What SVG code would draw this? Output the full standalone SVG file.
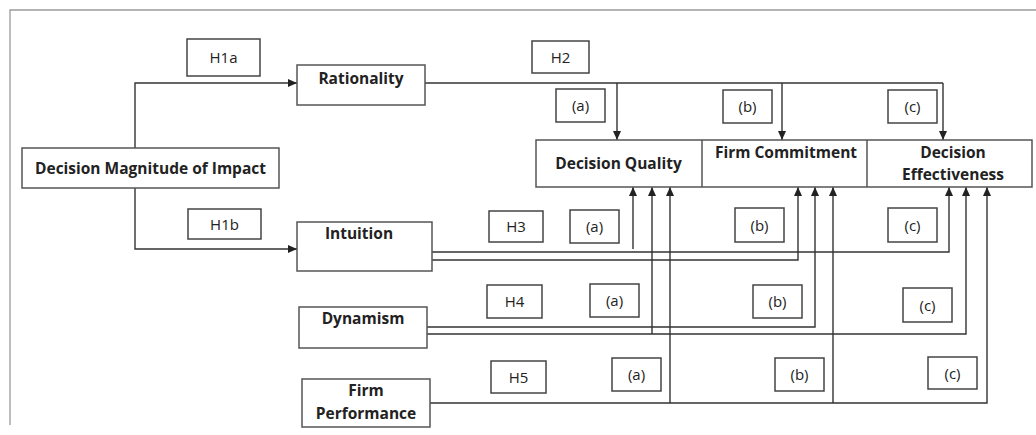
<svg xmlns="http://www.w3.org/2000/svg" width="1036" height="435" viewBox="0 0 1036 435">
  <style>
    .box { fill: #ffffff; stroke: #555555; stroke-width: 1.5; }
    .lbl { fill: #ffffff; stroke: #444444; stroke-width: 1.5; }
    .frame { fill: none; stroke: #9a9a9a; stroke-width: 1.3; }
    .wire { fill: none; stroke: #333333; stroke-width: 1.4; }
    .arrow { marker-end: url(#tip); }
    .t { font-family: "Open Sans", "Liberation Sans", sans-serif; fill: #222222; text-anchor: middle; }
    .b { font-size: 15.5px; font-weight: bold; }
    .r { font-size: 15px; }
  </style>
  <defs>
    <marker id="tip" markerWidth="10" markerHeight="8" refX="9" refY="4" orient="auto" markerUnits="userSpaceOnUse">
      <path d="M0,0 L9,4 L0,8 Z" fill="#222222"/>
    </marker>
  </defs>

  <!-- outer frame (top and left edges) -->
  <path class="frame" d="M10,425 V10 H1036"/>

  <!-- connectors -->
  <g id="connectors">
    <path class="wire arrow" d="M135,148 V83 H297"/>
    <path class="wire arrow" d="M135,188 V249 H297"/>

    <path class="wire" d="M425,83 H943"/>
    <path class="wire arrow" d="M943,83 V140"/>
    <path class="wire arrow" d="M617,83 V140"/>
    <path class="wire arrow" d="M782,83 V140"/>

    <path class="wire arrow" d="M428,252 H949 V187"/>
    <path class="wire arrow" d="M428,260 H798 V187"/>
    <path class="wire arrow" d="M633,249 V187"/>

    <path class="wire arrow" d="M425,327 H815 V187"/>
    <path class="wire arrow" d="M425,334 H966 V187"/>
    <path class="wire arrow" d="M652,334 V187"/>

    <path class="wire arrow" d="M430,403 H987 V187"/>
    <path class="wire arrow" d="M670,403 V187"/>
    <path class="wire arrow" d="M833,403 V187"/>
  </g>

  <!-- constructs -->
  <g id="magnitude">
    <rect class="box" x="22" y="148" width="257" height="40"/>
    <text class="t b" x="150.5" y="173.5">Decision Magnitude of Impact</text>
  </g>
  <g id="rationality">
    <rect class="box" x="297" y="65" width="128" height="40"/>
    <text class="t b" x="361" y="83.5">Rationality</text>
  </g>
  <g id="intuition">
    <rect class="box" x="297" y="222" width="135" height="49"/>
    <text class="t b" x="359" y="238.5">Intuition</text>
  </g>
  <g id="dynamism">
    <rect class="box" x="299" y="307" width="128" height="41"/>
    <text class="t b" x="363" y="323.5">Dynamism</text>
  </g>
  <g id="firm-performance">
    <rect class="box" x="302" y="379" width="128" height="48"/>
    <text class="t b" x="366" y="395.5">Firm</text>
    <text class="t b" x="366" y="418.5">Performance</text>
  </g>

  <!-- outcomes -->
  <g id="outcomes">
    <rect class="box" x="536" y="140" width="496" height="47"/>
    <line class="box" x1="702" y1="140" x2="702" y2="187"/>
    <line class="box" x1="867" y1="140" x2="867" y2="187"/>
  </g>
  <g id="decision-quality">
    <text class="t b" x="618.5" y="168.5">Decision Quality</text>
  </g>
  <g id="firm-commitment">
    <text class="t b" x="786" y="157.5">Firm Commitment</text>
  </g>
  <g id="decision-effectiveness">
    <text class="t b" x="953" y="157.5">Decision</text>
    <text class="t b" x="953" y="179.5">Effectiveness</text>
  </g>

  <!-- hypothesis labels -->
  <g id="h1a"><rect class="lbl" x="187" y="39" width="73" height="37"/><text class="t r" x="223.5" y="62.5">H1a</text></g>
  <g id="h1b"><rect class="lbl" x="188" y="209" width="73" height="30"/><text class="t r" x="224.5" y="229.5">H1b</text></g>
  <g id="h2"><rect class="lbl" x="532" y="41" width="57" height="32"/><text class="t r" x="560.5" y="62.5">H2</text></g>
  <g id="h2a"><rect class="lbl" x="556" y="89" width="49" height="33"/><text class="t r" x="580.5" y="110.5">(a)</text></g>
  <g id="h2b"><rect class="lbl" x="723" y="90" width="49" height="33"/><text class="t r" x="747.5" y="111.5">(b)</text></g>
  <g id="h2c"><rect class="lbl" x="888" y="90" width="49" height="33"/><text class="t r" x="912.5" y="111.5">(c)</text></g>

  <g id="h3"><rect class="lbl" x="489" y="211" width="54" height="31"/><text class="t r" x="516" y="232">H3</text></g>
  <g id="h3a"><rect class="lbl" x="570" y="210" width="49" height="33"/><text class="t r" x="594.5" y="231.5">(a)</text></g>
  <g id="h3b"><rect class="lbl" x="735" y="208" width="49" height="34"/><text class="t r" x="759.5" y="230.5">(b)</text></g>
  <g id="h3c"><rect class="lbl" x="888" y="208" width="49" height="34"/><text class="t r" x="912.5" y="230.5">(c)</text></g>

  <g id="h4"><rect class="lbl" x="487" y="285" width="55" height="33"/><text class="t r" x="514.5" y="307">H4</text></g>
  <g id="h4a"><rect class="lbl" x="590" y="284" width="49" height="33"/><text class="t r" x="614.5" y="305.5">(a)</text></g>
  <g id="h4b"><rect class="lbl" x="753" y="285" width="49" height="33"/><text class="t r" x="777.5" y="306.5">(b)</text></g>
  <g id="h4c"><rect class="lbl" x="903" y="288" width="49" height="34"/><text class="t r" x="927.5" y="310.5">(c)</text></g>

  <g id="h5"><rect class="lbl" x="491" y="361" width="55" height="32"/><text class="t r" x="518.5" y="382.5">H5</text></g>
  <g id="h5a"><rect class="lbl" x="612" y="358" width="49" height="33"/><text class="t r" x="636.5" y="379.5">(a)</text></g>
  <g id="h5b"><rect class="lbl" x="775" y="358" width="49" height="33"/><text class="t r" x="799.5" y="379.5">(b)</text></g>
  <g id="h5c"><rect class="lbl" x="928" y="357" width="49" height="32"/><text class="t r" x="952.5" y="378.5">(c)</text></g>
</svg>
